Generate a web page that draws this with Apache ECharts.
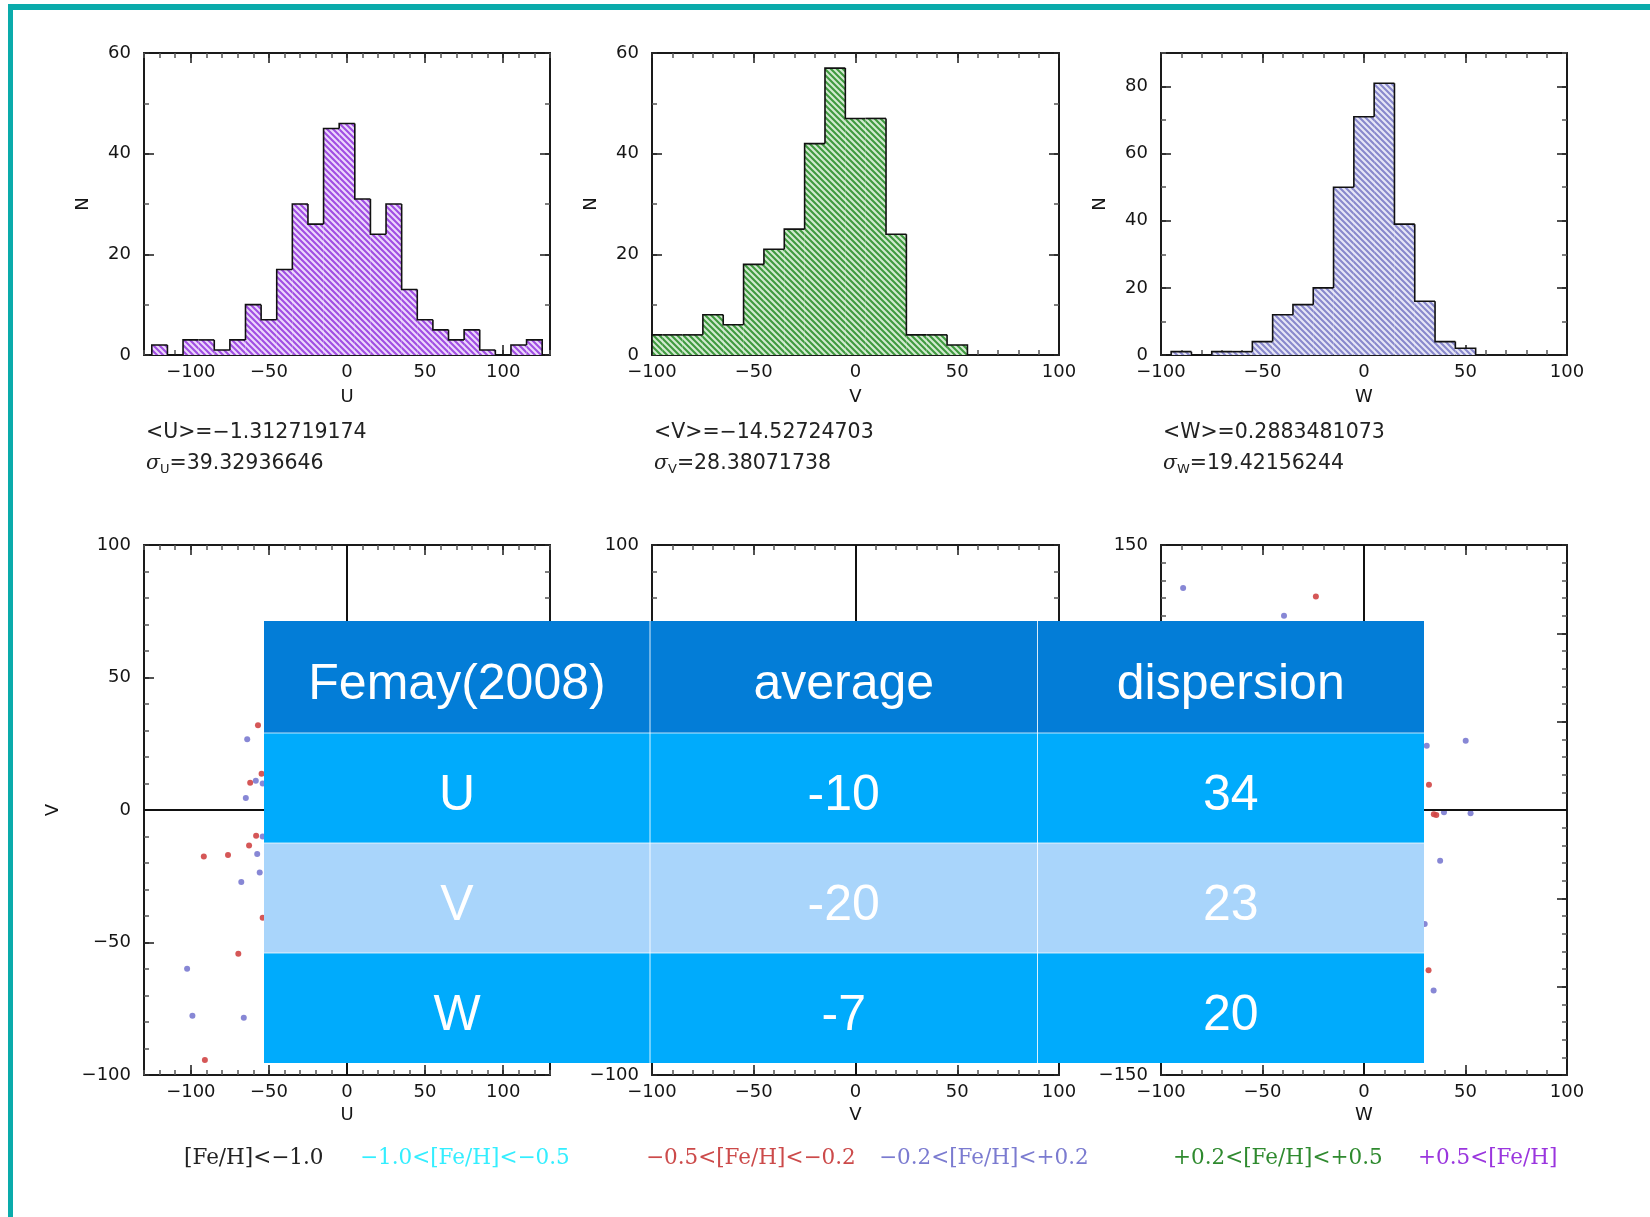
<!DOCTYPE html>
<html><head><meta charset="utf-8">
<script src="https://cdn.jsdelivr.net/npm/echarts@6/dist/echarts.min.js"></script>
<style>html,body{margin:0;padding:0;background:#fff}#c{width:1650px;height:1217px}</style>
</head><body><div id="c"></div>
<script>
// ---------------- data ----------------
const uCenters = [-120,-110,-100,-90,-80,-70,-60,-50,-40,-30,-20,-10,0,10,20,30,40,50,60,70,80,90,100,110,120];
const uCounts  = [2,0,3,3,1,3,10,7,17,30,26,45,46,31,24,30,13,7,5,3,5,1,0,2,3];
const vCenters = [-100,-90,-80,-70,-60,-50,-40,-30,-20,-10,0,10,20,30,40,50];
const vCounts  = [4,4,4,8,6,18,21,25,42,57,47,47,24,4,4,2];
const wCenters = [-90,-80,-70,-60,-50,-40,-30,-20,-10,0,10,20,30,40,50];
const wCounts  = [1,0,1,1,4,12,15,20,50,71,81,39,16,4,2];
const binWidth = 10;

const statsMean = ['<U>=\u22121.312719174', '<V>=\u221214.52724703', '<W>=0.2883481073'];
const statsSub = ['U', 'V', 'W'];
const statsSigma = ['39.32936646', '28.38071738', '19.42156244'];

const uvRed  = [[-57,32],[-54.7,13.7],[-62,10.3],[-58.2,-9.7],[-62.7,-13.4],[-91.7,-17.5],[-76.2,-17],[-69.6,-54.2],[-91,-94.3],[-54,-40.7]];
const uvBlue = [[-63.9,26.7],[-58.4,11],[-64.8,4.5],[-57.5,-16.6],[-55.9,-23.6],[-67.7,-27.2],[-102.4,-59.9],[-99,-77.6],[-66.1,-78.4],[-54,-10],[-54,10]];
const wRed   = [[-23.7,120.9],[32,14.3],[35.6,-2.9],[34.4,-2.4],[31.8,-90.7]];
const wBlue  = [[-89.1,125.6],[-39.4,109.9],[50.1,39.2],[30.9,36.3],[39.4,-1.3],[52.5,-1.8],[37.5,-28.7],[29.9,-64.5],[34.3,-102.1]];

const legendLabels = ['[Fe/H]<\u22121.0', '\u22121.0<[Fe/H]<\u22120.5', '\u22120.5<[Fe/H]<\u22120.2', '\u22120.2<[Fe/H]<+0.2', '+0.2<[Fe/H]<+0.5', '+0.5<[Fe/H]'];
const legendColors = ['#222222', '#33eeff', '#cc4a4a', '#7b7bd0', '#2f8a2f', '#9a35de'];

const tableHeader = ['Femay(2008)', 'average', 'dispersion'];
const tableRows = [['U', '-10', '34'], ['V', '-20', '23'], ['W', '-7', '20']];

// ---------------- layout ----------------
const panelX = [{left:144, width:406}, {left:652, width:407}, {left:1161, width:406}];
const histTop = 53, histH = 302, scatTop = 545, scatH = 530;
const legendX = [184, 360, 646, 879, 1173, 1418];

const tickFont = {color:'#151515', fontSize:18, fontFamily:'DejaVu Sans'};
function fmt(v){ return v < 0 ? '\u2212' + Math.abs(v) : String(v); }

function hatch(bg, fg){
  const c = document.createElement('canvas');
  c.width = 6; c.height = 6;
  const g = c.getContext('2d');
  g.fillStyle = bg; g.fillRect(0,0,6,6);
  g.strokeStyle = fg; g.lineWidth = 2.1;
  g.beginPath();
  g.moveTo(-1,-1); g.lineTo(7,7);
  g.moveTo(-4,2); g.lineTo(4,10);
  g.moveTo(2,-4); g.lineTo(10,4);
  g.stroke();
  return {image: c, repeat: 'repeat'};
}

const grids = [];
panelX.forEach(p => grids.push({left:p.left, top:histTop, width:p.width, height:histH, containLabel:false, outerBoundsMode:'none'}));
panelX.forEach(p => grids.push({left:p.left, top:scatTop, width:p.width, height:scatH, containLabel:false, outerBoundsMode:'none'}));

const xAxes = [], yAxes = [];
function addAxisSet(list, gi, dim, cfg){
  const positions = dim === 'x' ? ['bottom','top'] : ['left','right'];
  const mainIndex = list.length;
  positions.forEach((pos, k) => {
    list.push({
      gridIndex: gi, type:'value', position: pos, min: cfg.min, max: cfg.max, interval: cfg.minor,
      axisLine: {show:true, onZero:false, lineStyle:{color:'#1a1a1a', width:2}},
      axisTick: {show:true, inside:true, length:5, lineStyle:{color:'#555', width:1.5}},
      axisLabel: k === 0 ? Object.assign({show:true, margin: dim === 'x' ? 8 : 13,
          formatter: v => cfg.major.indexOf(v) >= 0 ? fmt(v) : ''}, tickFont) : {show:false},
      splitLine: {show:false},
      name: (k === 0 && cfg.name) ? cfg.name : '',
      nameLocation: 'middle', nameGap: cfg.nameGap || 30, nameRotate: dim === 'y' ? 90 : 0,
      nameTextStyle: Object.assign({}, tickFont)
    });
    list.push({
      gridIndex: gi, type:'value', position: pos, min: cfg.min, max: cfg.max,
      axisLine: {show:false, onZero:false},
      axisTick: {show:true, inside:true, length:10, customValues: cfg.major, lineStyle:{color:'#1a1a1a', width:1.5}},
      axisLabel: {show:false}, splitLine: {show:false}
    });
  });
  return mainIndex;
}

const majX130 = [-100,-50,0,50,100];
const majX100 = [-100,-50,0,50,100];
const histXcfg = [
  {min:-130, max:130, minor:10, major:majX130, name:'U', nameGap:33},
  {min:-100, max:100, minor:10, major:majX100, name:'V', nameGap:33},
  {min:-100, max:100, minor:10, major:majX100, name:'W', nameGap:33}
];
const histYcfg = [
  {min:0, max:60, minor:10, major:[0,20,40,60], name:'N', nameGap:52},
  {min:0, max:60, minor:10, major:[0,20,40,60], name:'N', nameGap:52},
  {min:0, max:90, minor:10, major:[0,20,40,60,80], name:'N', nameGap:52}
];
const scatXcfg = [
  {min:-130, max:130, minor:10, major:majX130, name:'U', nameGap:31},
  {min:-100, max:100, minor:10, major:majX100, name:'V', nameGap:31},
  {min:-100, max:100, minor:10, major:majX100, name:'W', nameGap:31}
];
const scatYcfg = [
  {min:-100, max:100, minor:10, major:[-100,-50,0,50,100], name:'V', nameGap:82},
  {min:-100, max:100, minor:10, major:[-100,-50,0,50,100]},
  {min:-150, max:150, minor:10, major:[-150,-100,-50,0,50,100,150]}
];

const mainX = [], mainY = [];
for (let i = 0; i < 3; i++){ mainX.push(addAxisSet(xAxes, i, 'x', histXcfg[i])); mainY.push(addAxisSet(yAxes, i, 'y', histYcfg[i])); }
for (let i = 0; i < 3; i++){ mainX.push(addAxisSet(xAxes, 3+i, 'x', scatXcfg[i])); mainY.push(addAxisSet(yAxes, 3+i, 'y', scatYcfg[i])); }

function histSeries(gi, centers, counts, fill, xMin, xMax){
  return {
    type:'custom', xAxisIndex: mainX[gi], yAxisIndex: mainY[gi],
    data: centers.map((c, i) => [c, counts[i]]),
    renderItem: function(params, api){
      const i = params.dataIndex;
      const c = api.value(0), n = api.value(1);
      const x0 = Math.max(c - binWidth/2, xMin), x1 = Math.min(c + binWidth/2, xMax);
      const pTop = api.coord([x0, n]);
      const pBot = api.coord([x1, 0]);
      const prev = i > 0 ? counts[i-1] : 0;
      const pPrev = api.coord([x0, prev]);
      const children = [];
      if (n > 0) children.push({type:'rect', shape:{x:pTop[0], y:pTop[1], width:pBot[0]-pTop[0], height:pBot[1]-pTop[1]}, style:{fill: fill}});
      const pts = [[pTop[0], pPrev[1]], [pTop[0], pTop[1]], [pBot[0], pTop[1]]];
      if (i === counts.length - 1) pts.push([pBot[0], pBot[1]]);
      children.push({type:'polyline', shape:{points: pts}, style:{stroke:'#111', lineWidth:1.6, fill:null}});
      return {type:'group', children: children};
    }
  };
}

const centerLine = {
  silent:true, symbol:'none', label:{show:false}, animation:false,
  lineStyle:{color:'#111', type:'solid', width:2},
  data:[{xAxis:0}, {yAxis:0}]
};
function scat(gi, data, color, withLine){
  const s = {type:'scatter', xAxisIndex: mainX[gi], yAxisIndex: mainY[gi], data: data, symbolSize: 6,
    itemStyle:{color: color, opacity: 0.9}, z: 3};
  if (withLine) s.markLine = centerLine;
  return s;
}

const series = [
  histSeries(0, uCenters, uCounts, hatch('#ecd8fc', '#a04ee2'), -130, 130),
  histSeries(1, vCenters, vCounts, hatch('#d2ead0', '#3f9a3f'), -100, 100),
  histSeries(2, wCenters, wCounts, hatch('#e6e6f6', '#8888cc'), -100, 100),
  scat(3, uvRed, '#d04545', true),
  scat(3, uvBlue, '#7a7ad0', false),
  scat(4, [], '#7a7ad0', true),
  scat(5, wRed, '#d04545', true),
  scat(5, wBlue, '#7a7ad0', false)
];

// ---------------- graphics ----------------
const gfx = [];
// teal frame
gfx.push({type:'rect', shape:{x:8, y:4, width:1642, height:6}, style:{fill:'#0aabab'}, z:50});
gfx.push({type:'rect', shape:{x:8, y:4, width:5, height:1213}, style:{fill:'#0aabab'}, z:50});

// stats texts
for (let i = 0; i < 3; i++){
  const x = panelX[i].left + 2;
  gfx.push({type:'text', x: x, y: 433, z:50, style:{text: statsMean[i], fill:'#222', fontSize:20.5, fontFamily:'DejaVu Sans', verticalAlign:'middle'}});
  gfx.push({type:'text', x: x, y: 464, z:50, style:{
    text: '{s|\u03c3}{b|' + statsSub[i] + '}{t|=' + statsSigma[i] + '}',
    verticalAlign:'middle',
    rich:{
      s:{fontSize:20.5, fontFamily:'DejaVu Serif', fontStyle:'italic', fill:'#222'},
      b:{fontSize:13, fontFamily:'DejaVu Sans', fill:'#222', padding:[12,0,0,0]},
      t:{fontSize:20.5, fontFamily:'DejaVu Sans', fill:'#222'}
    }}});
}

// legend
legendLabels.forEach((t, i) => {
  gfx.push({type:'text', x: legendX[i], y: 1158, z:50, style:{text: t, fill: legendColors[i], fontSize:21.5, fontFamily:'DejaVu Serif', verticalAlign:'middle'}});
});

// table
const tblX = [264, 650, 1037.5, 1424];
const tblY = [621, 733, 843, 953, 1063];
const rowFill = ['#037dd7', '#00abfc', '#a9d5fb', '#00abfc'];
for (let r = 0; r < 4; r++){
  gfx.push({type:'rect', z:100, shape:{x:tblX[0], y:tblY[r], width:tblX[3]-tblX[0], height:tblY[r+1]-tblY[r]}, style:{fill: rowFill[r]}});
}
for (let r = 1; r < 4; r++){
  gfx.push({type:'line', z:101, shape:{x1:tblX[0], y1:tblY[r], x2:tblX[3], y2:tblY[r]}, style:{stroke:'rgba(255,255,255,0.75)', lineWidth:1}});
}
for (let c = 1; c < 3; c++){
  gfx.push({type:'line', z:101, shape:{x1:tblX[c], y1:tblY[0], x2:tblX[c], y2:tblY[4]}, style:{stroke:'rgba(255,255,255,0.85)', lineWidth:1}});
}
const allRows = [tableHeader].concat(tableRows);
allRows.forEach((row, r) => {
  row.forEach((t, c) => {
    gfx.push({type:'text', z:102, x:(tblX[c]+tblX[c+1])/2, y:(tblY[r]+tblY[r+1])/2 + 8,
      style:{text:t, fill:'#ffffff', fontSize:50, fontFamily:'Liberation Sans', align:'center', verticalAlign:'middle'}});
  });
});

const chart = echarts.init(document.getElementById('c'), null, {renderer:'canvas'});
chart.setOption({
  backgroundColor:'#ffffff',
  animation:false,
  grid: grids,
  xAxis: xAxes,
  yAxis: yAxes,
  series: series,
  graphic: {elements: gfx}
});
</script>
</body></html>
